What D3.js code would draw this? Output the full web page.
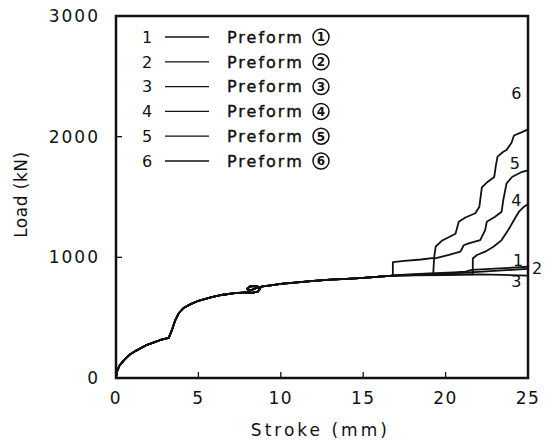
<!DOCTYPE html>
<html>
<head>
<meta charset="utf-8">
<script src="https://cdn.jsdelivr.net/npm/d3@7"></script>
<style>
  body { margin: 0; background: #fff; }
  svg text { font-family: "DejaVu Sans", sans-serif; fill: #111; }
</style>
</head>
<body>
<svg id="chart" width="552" height="442"></svg>
<script>
// shared part of all six curves (stroke mm, load kN)
const commonCurve = [[0,0],[0.05,50],[0.2,100],[0.5,150],[0.8,190],[1.2,225],[1.8,270],[2.3,295],[2.7,315],[3.2,332],
  [3.4,400],[3.6,480],[3.8,535],[4.1,580],[4.5,610],[5,640],[5.8,670],[6.5,690],[7.2,703],[7.9,710],
  [8.25,706],[8.6,716],[8.75,740],[8.55,762],[8.15,760],[7.95,740],[8.1,722],[8.5,745],[8.9,760],[9.5,770],[10,780],[11,793],
  [12,805],[13,815],[14,822],[15,830],[16,840],[16.8,848]]

const curve1 = [[17.5,856],[19,866],[20.5,876],[21.2,882],[21.6,896],[23,906],[25,922]]
const curve2 = [[18,853],[20,866],[22,880],[25,905]]
const curve3 = [[18,850],[20,852],[22,858],[23.5,854],[25,848]]
const curve4 = [[17.5,851],[19,855],[20.5,858],[21.65,860],[21.65,990],[21.9,1019],[22.4,1047],[22.9,1088],
  [23.4,1143],[23.8,1226],[24.15,1309],[24.45,1378],[24.75,1419],[25,1440]]
const curve5 = [[17.5,852],[18.5,859],[19.25,865],[19.3,990],[20.2,1020],[20.9,1047],[21.1,1100],[21.4,1116],
  [22.1,1143],[22.4,1226],[22.5,1295],[23,1336],[23.4,1378],[23.5,1475],[23.7,1613],[24.05,1668],[24.65,1709],[25,1720]]
const curve6 = [[16.8,960],[17.5,970],[18.5,982],[19.3,995],[19.4,1090],[19.8,1140],[20.6,1195],[20.8,1295],
  [21.2,1330],[21.8,1365],[22.05,1420],[22.2,1580],[22.5,1620],[22.95,1665],[23.05,1760],[23.15,1835],
  [23.5,1875],[23.7,1890],[24,1950],[24.15,2010],[24.6,2035],[25,2060]]

const curveTails = [curve1, curve2, curve3, curve4, curve5, curve6]
const curveNames = ["1","2","3","4","5","6"]
const legendLabels = ["Preform","Preform","Preform","Preform","Preform","Preform"]
const legendMarks = ["1","2","3","4","5","6"]
// where the curve numbers sit (stroke, load)
const curveNameAt = [[24.4,978],[25.55,911],[24.3,804],[24.3,1475],[24.2,1780],[24.3,2360]]

const xTicks = [0,5,10,15,20,25]
const yTicks = [0,1000,2000,3000]

const svg = d3.select("#chart")
const x = d3.scaleLinear().domain([0,25]).range([116,528])
const y = d3.scaleLinear().domain([0,3000]).range([378,16])

const line = d3.line().x(d => x(d[0])).y(d => y(d[1]))

// curves
svg.append("g")
  .selectAll("path")
  .data(curveTails)
  .join("path")
    .attr("d", d => line(commonCurve.concat(d)))
    .attr("fill", "none")
    .attr("stroke", "#111")
    .attr("stroke-width", 1.8)
    .attr("stroke-linejoin", "round")

// frame
svg.append("rect")
  .attr("x", x(0)).attr("y", y(3000))
  .attr("width", x(25) - x(0)).attr("height", y(0) - y(3000))
  .attr("fill", "none").attr("stroke", "#111").attr("stroke-width", 2.5)

// inward ticks
svg.append("g").selectAll("line")
  .data(xTicks.slice(1, -1))
  .join("line")
    .attr("x1", d => x(d)).attr("x2", d => x(d))
    .attr("y1", y(0)).attr("y2", y(0) - 6)
    .attr("stroke", "#111").attr("stroke-width", 1.3)
svg.append("g").selectAll("line")
  .data(yTicks.slice(1, -1))
  .join("line")
    .attr("x1", x(0)).attr("x2", x(0) + 6)
    .attr("y1", d => y(d)).attr("y2", d => y(d))
    .attr("stroke", "#111").attr("stroke-width", 1.3)

// tick labels
svg.append("g").selectAll("text")
  .data(xTicks)
  .join("text")
    .attr("x", d => x(d)).attr("y", y(0) + 26)
    .attr("text-anchor", "middle")
    .attr("font-size", 17).attr("letter-spacing", 1.5)
    .text(d => d)
svg.append("g").selectAll("text")
  .data(yTicks)
  .join("text")
    .attr("x", x(0) - 16).attr("y", d => y(d))
    .attr("dy", "0.35em")
    .attr("text-anchor", "end")
    .attr("font-size", 17).attr("letter-spacing", 2)
    .text(d => d)

// axis titles
svg.append("text")
  .attr("x", x(12.4)).attr("y", 436)
  .attr("text-anchor", "middle").attr("font-size", 17)
  .attr("letter-spacing", 3)
  .text("Stroke (mm)")
svg.append("text")
  .attr("transform", `translate(27,${y(1520)}) rotate(-90)`)
  .attr("text-anchor", "middle").attr("font-size", 17)
  .attr("letter-spacing", 0.5)
  .text("Load (kN)")

// curve numbers
svg.append("g").selectAll("text")
  .data(curveNameAt)
  .join("text")
    .attr("x", d => x(d[0])).attr("y", d => y(d[1]))
    .attr("dy", "0.36em")
    .attr("text-anchor", "middle")
    .attr("font-size", 16)
    .text((d, i) => curveNames[i])

// legend
const rows = svg.append("g").selectAll("g")
  .data(legendLabels)
  .join("g")
    .attr("transform", (d, i) => `translate(0,${37 + i * 24.8})`)
rows.append("text")
  .attr("x", 147).attr("dy", "0.36em")
  .attr("text-anchor", "middle").attr("font-size", 16)
  .text((d, i) => curveNames[i])
rows.append("line")
  .attr("x1", 165).attr("x2", 209)
  .attr("stroke", "#111").attr("stroke-width", 1.3)
rows.append("text")
  .attr("x", 227).attr("dy", "0.36em")
  .attr("font-size", 16).attr("letter-spacing", 2)
  .attr("stroke", "#111").attr("stroke-width", 0.4)
  .text(d => d)
rows.append("circle")
  .attr("cx", 321).attr("r", 8)
  .attr("fill", "none").attr("stroke", "#111").attr("stroke-width", 1.5)
rows.append("text")
  .attr("x", 321).attr("dy", "0.36em")
  .attr("text-anchor", "middle")
  .attr("font-size", 12).attr("font-weight", "bold")
  .text((d, i) => legendMarks[i])
</script>
</body>
</html>
